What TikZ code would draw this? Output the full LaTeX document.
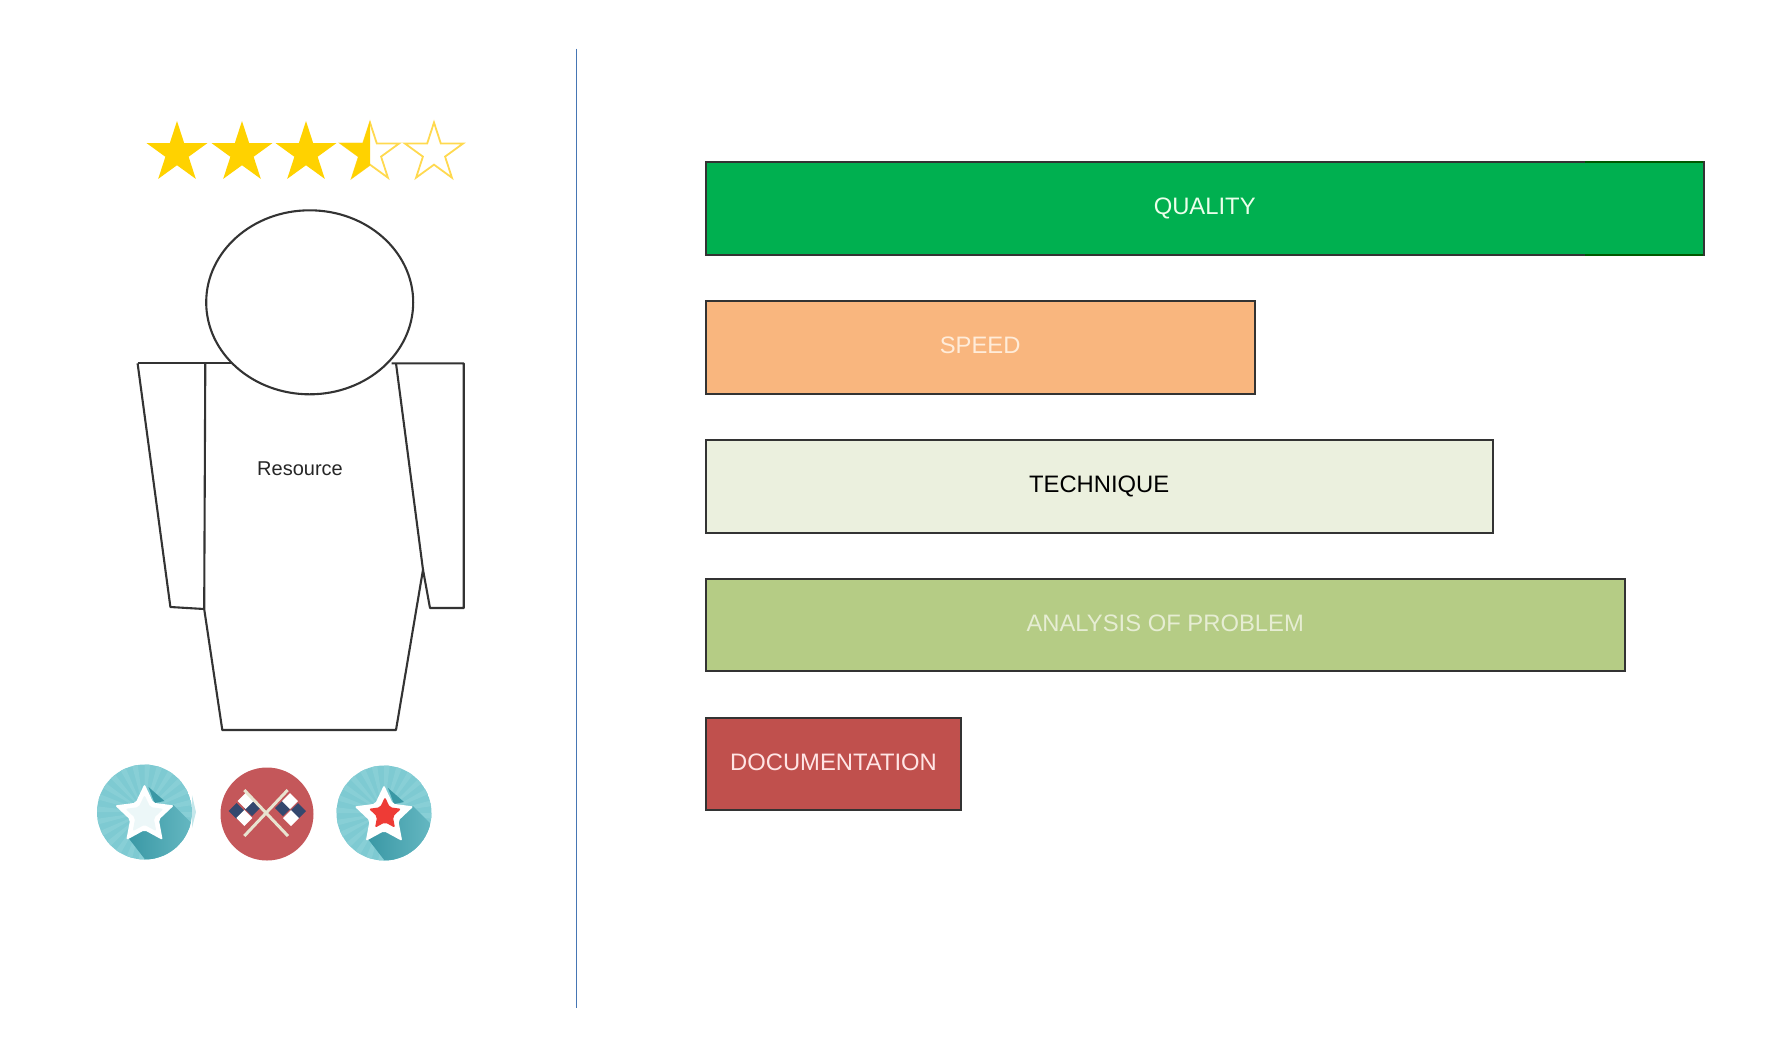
\documentclass[tikz,border=0pt]{standalone}
\usepackage{fontspec}
\setmainfont{Liberation Sans}
\usetikzlibrary{shapes.geometric}
\definecolor{goldstar}{HTML}{FFD200}
\definecolor{goldline}{HTML}{FFD94F}
\definecolor{tealdisc}{HTML}{7ECAD2}
\definecolor{tealray}{HTML}{88CFD6}
\definecolor{tealdark}{HTML}{3A98A5}
\definecolor{tealfade}{HTML}{6FBFC8}
\definecolor{flagred}{HTML}{C4575A}
\definecolor{flagnavy}{HTML}{34486E}
\definecolor{flagpole}{HTML}{E8E4D0}
\definecolor{redcore}{HTML}{EE3B36}
\tikzset{
  outline/.style={draw=black!80,line width=1.05pt,line join=round},
  bar/.style={draw=black!80,line width=1pt,rectangle,anchor=north west,inner sep=0pt,
    minimum height=46.3pt,text height=8.6pt,text depth=2.2pt,font=\fontsize{11.9}{14}\selectfont},
  ratestar/.style={star,star points=5,star point ratio=2.618,minimum size=32pt,inner sep=0pt},
  openstar/.style={ratestar,minimum size=30.5pt,draw=goldline,line width=0.9pt},
  facet/.style={star,star points=5,star point ratio=2.05,inner sep=0pt,rounded corners=1pt},
}
\newcommand{\tealicon}[3]{
  \begin{scope}
   \clip (#1,#2) circle [radius=47.5];
   \fill[tealdisc] (#1,#2) circle [radius=48];
   \foreach \a in {0,15,...,345}
     \fill[tealray] (#1,#2)--++(\a:50)--++(\a+90:6)--cycle;
   \shade[left color=tealdark,right color=tealfade] (#1-16,#2+26)--(#1+29,#2-7)--(#1+62,#2+26)--(#1+18,#2+70)--cycle;
   \fill[tealdark] (#1+4,#2-25)--(#1+20,#2-11)--(#1+10,#2-9)--cycle;
  \end{scope}
  \node[facet,fill=white,minimum size=31pt] (#3) at (#1,#2+3) {};
}
\begin{document}
\begin{tikzpicture}[x=0.5pt,y=-0.5pt]
 \useasboundingbox (0,0) rectangle (1769,1057);
 \draw[color={rgb,255:red,70;green,118;blue,180},line width=0.8pt](576.5,48.5)--(576.5,1007.5);
 \foreach \i/\x in {1/177,2/242,3/306}
   \node[ratestar,fill=goldstar] (rate\i) at (\x,153) {};
 \node[openstar] (rate4) at (370,153) {};
 \node[openstar] (rate5) at (434,153) {};
 \begin{scope}
  \clip (330,110) rectangle (370,190);
  \node[ratestar,fill=goldstar] (ratehalf) at (370,153) {};
 \end{scope}
 \draw[outline](137.6,363.3)--(205.3,363.3);
 \draw[outline](137.6,363.3)--(170.4,607)--(204.2,609);
 \draw[outline](205.3,363.3)--(204.2,609)--(222.3,730)--(396,730)--(423,569.7)--(396,363.3);
 \draw[outline](205.3,363.3)--(231,363.3);
 \draw[outline](391.5,363.3)--(463.7,363.3)--(463.7,608)--(430,608)--(423,569.7);
 \draw[outline,fill=white](309.7,302.3) ellipse [x radius=103.5,y radius=92];
 \node[font=\fontsize{10}{12}\selectfont,text=black!85] (resource) at (300,469) {Resource};
 \tealicon{144.5}{812}{staricon}
 \fill[tealray!50] (192,795)--(196,812)--(192,828)--cycle;
 \node[facet,fill=white!85!tealdisc,minimum size=20pt] (starcore) at (144.5,815) {};
 \fill[flagred] (267,814) circle [radius=46.5];
 \foreach \cx/\cy in {236.7/811,252/808,283/808,298/811}
   \fill[flagnavy] (\cx-8,\cy)--(\cx,\cy-8)--(\cx+8,\cy)--(\cx,\cy+8)--cycle;
 \foreach \cx/\cy in {245.7/801,244.3/818,290/801,291/818}
   \fill[white] (\cx-8,\cy)--(\cx,\cy-8)--(\cx+8,\cy)--(\cx,\cy+8)--cycle;
 \draw[flagpole,line width=1.5pt](244.3,836)--(287.7,790);
 \draw[flagpole,line width=1.5pt](244.3,790)--(288,836);
 \tealicon{384}{813}{redicon}
 \node[facet,fill=redcore,minimum size=17pt] (redcore) at (385,814) {};
 \node[bar,fill={rgb,255:red,0;green,176;blue,80},text=white!92!green,minimum width=499pt] (quality) at (704.7,161) {QUALITY};
 \draw[green!35!black,line width=1pt](1585,162)--(1702.7,162);
 \draw[green!35!black,line width=1pt](1585,254.6)--(1702.7,254.6);
 \node[bar,fill={rgb,255:red,249;green,182;blue,126},text=white!85!orange,minimum width=274.4pt] (speed) at (704.7,300) {SPEED};
 \node[bar,fill={rgb,255:red,235;green,240;blue,222},text=black,minimum width=393.5pt] (technique) at (704.7,439) {TECHNIQUE};
 \node[bar,fill={rgb,255:red,181;green,204;blue,133},text={rgb,255:red,230;green,237;blue,211},minimum width=459.5pt] (analysis) at (704.7,577.8) {ANALYSIS OF PROBLEM};
 \node[bar,fill={rgb,255:red,192;green,80;blue,77},text=white!90!red,minimum width=127.8pt] (documentation) at (704.7,716.5) {DOCUMENTATION};
\end{tikzpicture}
\end{document}
